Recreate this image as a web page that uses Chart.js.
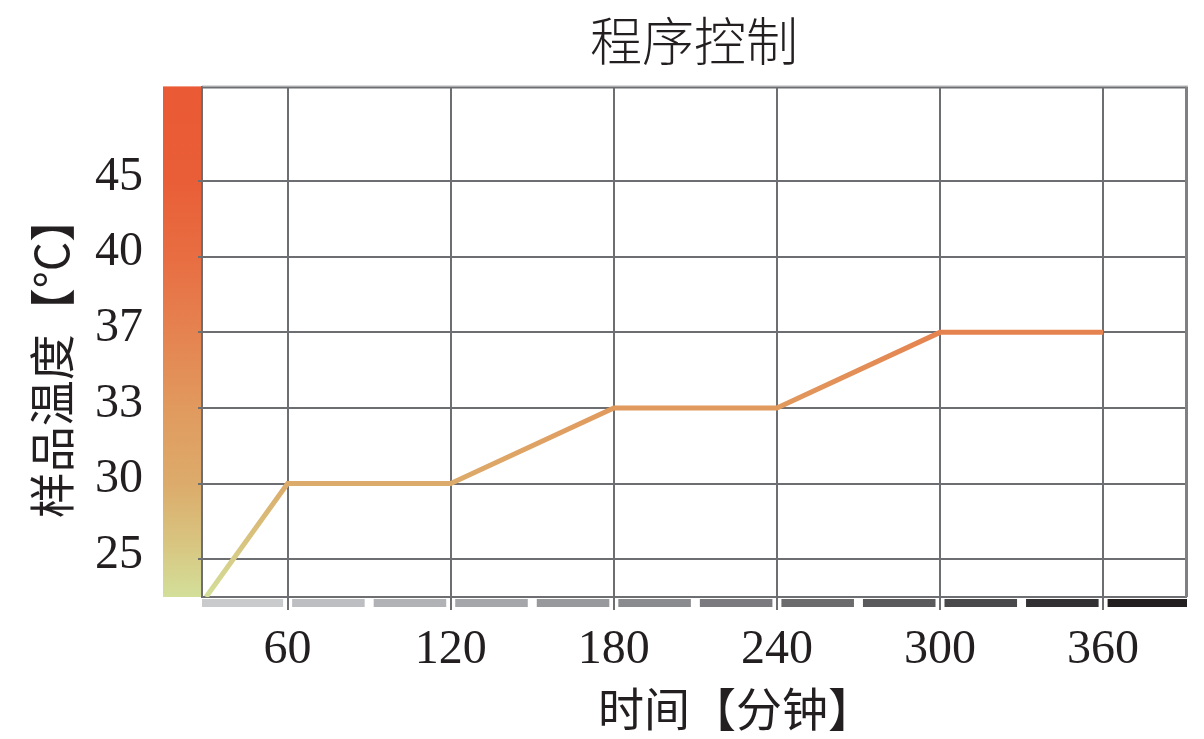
<!DOCTYPE html>
<html>
<head>
<meta charset="utf-8">
<script src="https://cdn.jsdelivr.net/npm/chart.js@4.4.1/dist/chart.umd.min.js"></script>
<style>
  html, body { margin: 0; padding: 0; background: #fff; }
  #wrap { width: 1204px; height: 739px; }
</style>
</head>
<body>
<div id="wrap"><canvas id="chart" width="1204" height="739"></canvas></div>
<script>
const titleText = '程序控制';
const xTitleText = '时间【分钟】';
const yTitleText = '样品温度【°C】';

// tick labels
const timeTicks = [60, 120, 180, 240, 300, 360];
const tempTicks = [25, 30, 33, 37, 40, 45];

// program: time (min) -> sample temperature (°C)
const times = [30, 60, 120, 180, 240, 300, 360];
const temps = [22.5, 30, 30, 33, 33, 37, 37];

// half-hour marks that split the grey strip under the x axis
const stripMarks = [60, 90, 120, 150, 180, 210, 240, 270, 300, 330, 360];
const stripColors = ['#c9cacc', '#bdbec1', '#b1b2b5', '#a5a6a9', '#98999c', '#8a8b8e',
                     '#7b7b7f', '#6b6b6e', '#5a5a5d', '#49484b', '#323032', '#231f20'];

const gridColor = '#6d6e71';
const textColor = '#231f20';

// the y axis is evenly spaced by tick, not by value
function toLevel(t) {
    for (let i = 0; i < tempTicks.length - 1; i++) {
        if (t <= tempTicks[i + 1] || i === tempTicks.length - 2) {
            return i + (t - tempTicks[i]) / (tempTicks[i + 1] - tempTicks[i]);
        }
    }
}

function warmGradient(ctx, area) {
    const g = ctx.createLinearGradient(0, area.bottom, 0, area.top);
    g.addColorStop(0, '#d3df99');
    g.addColorStop(0.11, '#d8c47f');
    g.addColorStop(0.222, '#dcab6b');
    g.addColorStop(0.369, '#e19a5e');
    g.addColorStop(0.518, '#e58350');
    g.addColorStop(0.663, '#e86e42');
    g.addColorStop(0.816, '#e95e37');
    g.addColorStop(1, '#ea5a34');
    return g;
}

const decorations = {
    id: 'decorations',
    beforeDraw(chart) {
        const { ctx, chartArea: a, scales } = chart;
        ctx.save();
        // colour bar along the y axis
        ctx.fillStyle = warmGradient(ctx, a);
        ctx.fillRect(163, a.top - 1, a.left - 163, a.bottom - a.top + 1);

        // grey strip under the x axis
        const edges = [a.left, ...stripMarks.map(m => scales.x.getPixelForValue(m)), a.right + 1];
        const gap = 4.5;
        for (let i = 0; i < edges.length - 1; i++) {
            const x0 = i === 0 ? edges[i] : edges[i] + gap;
            const x1 = i === edges.length - 2 ? edges[i + 1] : edges[i + 1] - gap;
            ctx.fillStyle = stripColors[i];
            ctx.fillRect(x0, a.bottom + 2, x1 - x0, 8);
        }
        ctx.restore();
    },
    afterDraw(chart) {
        const { ctx, chartArea: a } = chart;
        ctx.save();
        // top and right frame
        ctx.strokeStyle = '#c4c4c6';
        ctx.lineWidth = 1;
        ctx.beginPath();
        ctx.moveTo(a.left, a.top - 1.5);
        ctx.lineTo(a.right + 2, a.top - 1.5);
        ctx.stroke();
        ctx.strokeStyle = gridColor;
        ctx.lineWidth = 2;
        ctx.beginPath();
        ctx.moveTo(a.left, a.top);
        ctx.lineTo(a.right, a.top);
        ctx.stroke();
        ctx.strokeStyle = '#808083';
        ctx.lineWidth = 3;
        ctx.beginPath();
        ctx.moveTo(a.right + 0.5, a.top - 1);
        ctx.lineTo(a.right + 0.5, a.bottom);
        ctx.stroke();

        // axis titles
        ctx.fillStyle = textColor;
        ctx.textAlign = 'center';
        ctx.textBaseline = 'middle';
        ctx.font = '46px "Noto Sans CJK SC"';
        ctx.fillText(xTitleText, 736, 709);

        ctx.translate(52, 357);
        ctx.rotate(-Math.PI / 2);
        ctx.font = '46px "Noto Sans CJK SC"';
        ctx.fillText(yTitleText, 0, 0);
        ctx.restore();
    }
};

new Chart(document.getElementById('chart'), {
    type: 'line',
    data: {
        datasets: [{
            data: times.map((t, i) => ({ x: t, y: toLevel(temps[i]) })),
            borderColor: c => {
                const a = c.chart.chartArea;
                return a ? warmGradient(c.chart.ctx, a) : '#e0a96a';
            },
            borderWidth: 5,
            pointRadius: 0,
            tension: 0,
            fill: false
        }]
    },
    options: {
        responsive: false,
        animation: false,
        devicePixelRatio: 1,
        layout: { padding: { left: 0, right: 18, top: 0, bottom: 0 } },
        plugins: {
            legend: { display: false },
            tooltip: { enabled: false },
            title: {
                display: true,
                text: titleText,
                fullSize: false,
                color: textColor,
                font: { family: '"Noto Sans CJK SC"', size: 52, weight: '300', lineHeight: 1.2 },
                padding: { top: 10, bottom: 15 }
            }
        },
        scales: {
            x: {
                type: 'linear',
                min: 28.5,
                max: 390.5,
                afterBuildTicks: s => { s.ticks = timeTicks.map(v => ({ value: v })); },
                afterFit: s => { s.height = 142; },
                grid: { color: gridColor, lineWidth: 2, tickLength: 13 },
                border: { display: true, color: gridColor, width: 2 },
                ticks: {
                    color: textColor,
                    padding: 12,
                    maxRotation: 0,
                    font: { family: '"Liberation Serif"', size: 48 }
                }
            },
            y: {
                type: 'linear',
                min: -0.5,
                max: 6.24,
                afterBuildTicks: s => { s.ticks = tempTicks.map((_, i) => ({ value: i })); },
                afterFit: s => { s.width = 202; },
                grid: { color: gridColor, lineWidth: 2, tickLength: 4 },
                border: { display: true, color: gridColor, width: 2 },
                ticks: {
                    color: textColor,
                    padding: 55,
                    labelOffset: -4,
                    font: { family: '"Liberation Serif"', size: 48 },
                    callback: v => tempTicks[Math.round(v)]
                }
            }
        }
    },
    plugins: [decorations]
});
</script>
</body>
</html>
